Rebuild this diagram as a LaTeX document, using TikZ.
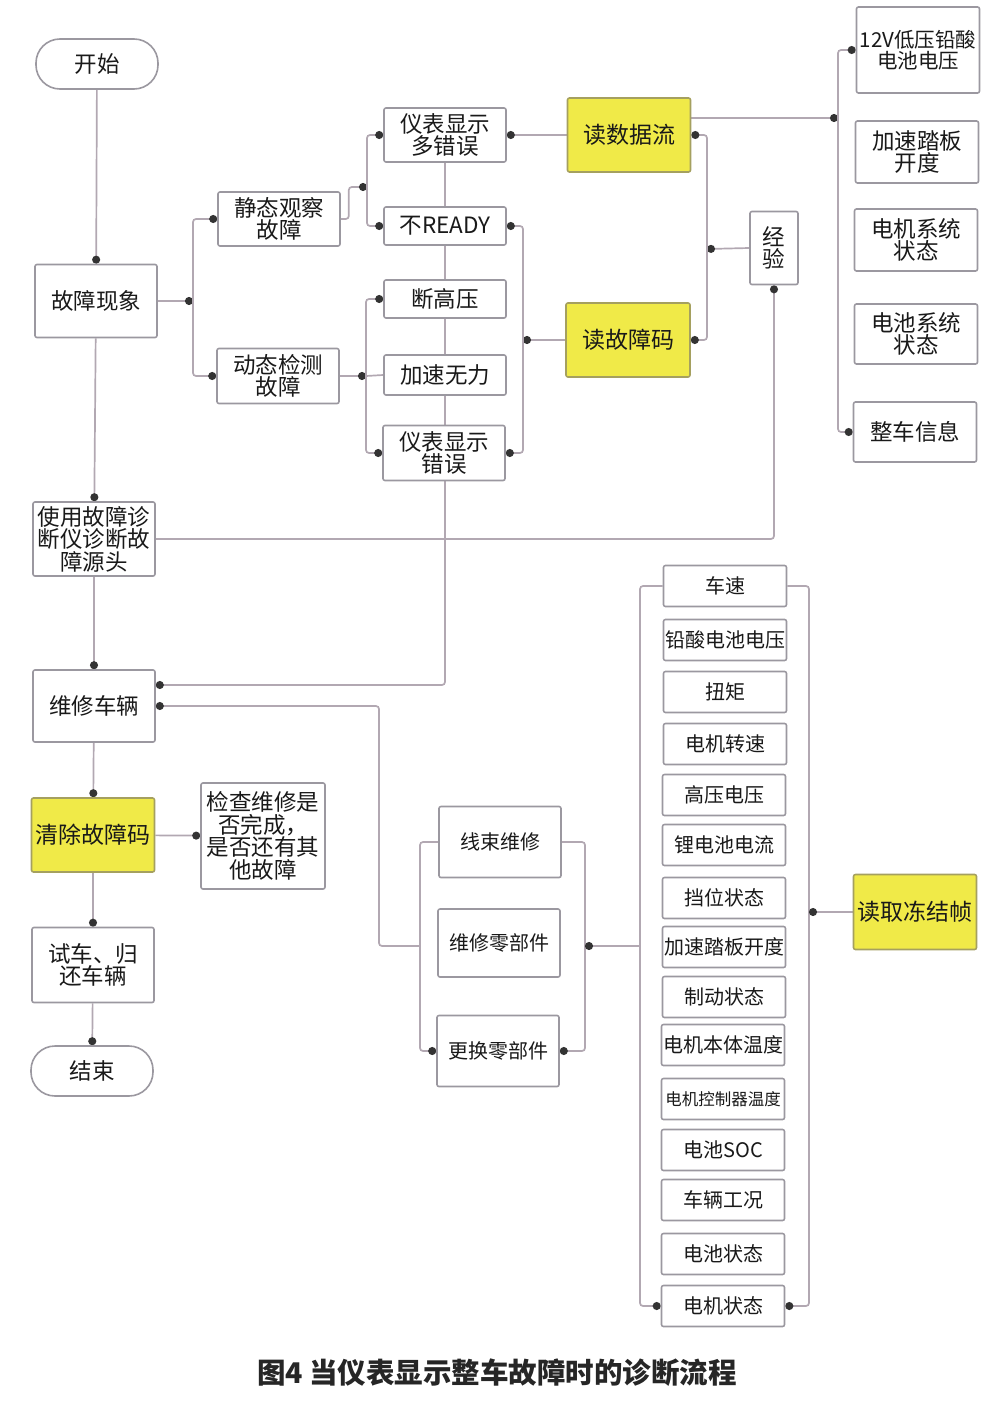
\documentclass[tikz,border=0pt]{standalone}
\usepackage{fontspec}
\setmainfont{Noto Sans CJK SC}
\usepackage{xcolor}
\usepackage{tikz}
\usetikzlibrary{positioning}
\usetikzlibrary{arrows.meta}
\usetikzlibrary{backgrounds}
\definecolor{boxgray}{RGB}{155,152,160}
\definecolor{linegray}{RGB}{178,168,178}
\definecolor{hlyellow}{RGB}{240,234,72}
\definecolor{hlborder}{RGB}{165,160,95}
\tikzset{
  myline/.style={
    draw=linegray,
    line width=1.7pt,
    rounded corners=3pt,
  },
  myarrow/.style={
    myline,
    -{Circle[length=8pt,fill=black!80,color=black!80]},
  },
  mybox/.style={
    draw=boxgray,
    shape=rectangle,
    line width=1.6pt,
    rounded corners=2pt,
    fill=white,
    align=center,
    inner sep=1pt,
    minimum width=122pt,
    text=black!90,
    font=\fontsize{22.5}{22.5}\selectfont
  },
  myterm/.style={
    mybox,
    rounded corners=24pt,
    minimum height=50pt,
  },
  myhl/.style={
    mybox,
    fill=hlyellow,
    draw=hlborder,
    minimum height=74pt,
    font=\fontsize{23}{23}\selectfont
  },
  myparam/.style={
    mybox,
    minimum width=123pt,
    minimum height=41pt,
    font=\fontsize{20}{20}\selectfont
  }
}

\begin{document}
\begin{tikzpicture}[auto, x=1pt, y=-1pt]
    \useasboundingbox (0,0) rectangle (1008,1413);

    % left column
    \node[myterm]                      (start)  at (97,64)   {开始};
    \node[mybox, minimum height=73pt]  (sym)    at (96,301)  {故障现象};
    \node[mybox, minimum height=74pt]  (diag)   at (94,539)  {使用故障诊\\断仪诊断故\\障源头};
    \node[mybox, minimum height=72pt]  (repair) at (94,706)  {维修车辆};
    \node[myhl, minimum width=123pt]   (clear)  at (93,835)  {清除故障码};
    \node[mybox, minimum height=75pt]  (test)   at (93,965)  {试车、归\\还车辆};
    \node[myterm]                      (finish) at (92,1071) {结束};
    \node[mybox, minimum width=124pt, minimum height=106pt] (check) at (263,836) {检查维修是\\否完成，\\是否还有其\\他故障};

    % fault kinds
    \node[mybox, minimum height=54pt] (static)  at (279,219) {静态观察\\故障};
    \node[mybox, minimum height=55pt] (dynamic) at (278,376) {动态检测\\故障};

    \node[mybox, minimum height=54pt] (multi)    at (445,135) {仪表显示\\多错误};
    \node[mybox, minimum height=38pt] (notready) at (445,226) {不READY};
    \node[mybox, minimum height=38pt] (hv)       at (445,299) {断高压};
    \node[mybox, minimum height=40pt] (weak)     at (445,375) {加速无力};
    \node[mybox, minimum height=55pt] (meter)    at (444,453) {仪表显示\\错误};

    % readers
    \node[myhl, minimum width=123pt] (flow) at (629,135) {读数据流};
    \node[myhl, minimum width=124pt] (code) at (628,340) {读故障码};
    \node[mybox, minimum width=48pt, minimum height=73pt] (exp) at (774,248) {经\\验};

    % data stream items
    \node[mybox, minimum width=123pt, minimum height=86pt, font=\fontsize{20.5}{21}\selectfont] (v12) at (918,50) {12V低压铅酸\\电池电压};
    \node[mybox, minimum width=123pt, minimum height=62pt] (pedal)  at (917,152) {加速踏板\\开度};
    \node[mybox, minimum width=123pt, minimum height=62pt] (motsys) at (916,240) {电机系统\\状态};
    \node[mybox, minimum width=123pt, minimum height=60pt] (batsys) at (916,334) {电池系统\\状态};
    \node[mybox, minimum width=123pt, minimum height=60pt] (info)   at (915,432) {整车信息};

    % repair kinds
    \node[mybox, minimum height=71pt, font=\fontsize{20}{20}\selectfont] (harness) at (500,842)  {线束维修};
    \node[mybox, minimum height=68pt, font=\fontsize{20}{20}\selectfont] (fixpart) at (499,943)  {维修零部件};
    \node[mybox, minimum height=71pt, font=\fontsize{20}{20}\selectfont] (swap)    at (498,1051) {更换零部件};

    % freeze frame
    \node[myhl, minimum width=123pt, minimum height=75pt] (frame) at (915,912) {读取冻结帧};

    \node[myparam] (speed)   at (725,586)  {车速};
    \node[myparam] (leadv)   at (725,640)  {铅酸电池电压};
    \node[myparam] (torque)  at (725,692)  {扭矩};
    \node[myparam] (motrpm)  at (725,744)  {电机转速};
    \node[myparam] (hvv)     at (724,795)  {高压电压};
    \node[myparam] (lii)     at (724,845)  {锂电池电流};
    \node[myparam] (gear)    at (724,898)  {挡位状态};
    \node[myparam] (pedpos)  at (724,947)  {加速踏板开度};
    \node[myparam] (brake)   at (724,997)  {制动状态};
    \node[myparam] (mottemp) at (723,1045) {电机本体温度};
    \node[myparam, font=\fontsize{16.5}{17}\selectfont] (ctltemp) at (723,1099) {电机控制器温度};
    \node[myparam] (soc)     at (723,1150) {电池SOC};
    \node[myparam] (cond)    at (723,1200) {车辆工况};
    \node[myparam] (batst)   at (723,1254) {电池状态};
    \node[myparam] (motst)   at (723,1306) {电机状态};

    \node[font=\fontsize{28.5}{29}\selectfont\bfseries, text=black!85] (caption) at (497,1373) {图4 当仪表显示整车故障时的诊断流程};

    \coordinate (symbus)  at (193,301);
    \coordinate (statbus) at (367,187);
    \coordinate (dynbus)  at (366,376);
    \coordinate (codebus) at (523,340);
    \coordinate (expbus)  at (707,249);
    \coordinate (databus) at (838,118);
    \coordinate (drop)    at (445,685);
    \coordinate (fixleft) at (420,946);
    \coordinate (fixturn) at (379,946);
    \coordinate (fixright) at (585,946);
    \coordinate (parleft) at (640,946);
    \coordinate (parright) at (809,912);

    \begin{scope}[on background layer]
    \draw[myarrow] (start)  -- (sym);
    \draw[myarrow] (sym)    -- (diag);
    \draw[myarrow] (diag)   -- (repair);
    \draw[myarrow] (repair) -- (clear);
    \draw[myarrow] (clear)  -- (test);
    \draw[myarrow] (test)   -- (finish);
    \draw[myarrow] (clear)  -- (check);

    \draw[myarrow] (sym.east) -- (symbus);
    \draw[myarrow] (symbus) |- (static.west);
    \draw[myarrow] (symbus) |- (dynamic.west);

    \draw[myarrow] (static.east) -- ++(8,0) |- (statbus);
    \draw[myarrow] (statbus) |- (multi.west);
    \draw[myarrow] (statbus) |- (notready.west);

    \draw[myarrow] (dynamic.east) -- (dynbus);
    \draw[myarrow] (dynbus) |- (hv.west);
    \draw[myarrow] (dynbus) |- (meter.west);
    \draw[myline]  (dynbus) -- (weak.west);

    \draw[myarrow] (multi.south) -- (drop) -- ([yshift=21pt]repair.east);

    \draw[myarrow] (flow.west) -- (multi.east);
    \draw[myarrow] (code.west) -- (codebus);
    \draw[myarrow] (codebus) |- (notready.east);
    \draw[myarrow] (codebus) |- (meter.east);

    \draw[myarrow] (exp.west) -- (expbus);
    \draw[myarrow] (expbus) |- (flow.east);
    \draw[myarrow] (expbus) |- (code.east);

    \draw[myarrow] ([yshift=17pt]flow.east) -- (databus);
    \draw[myarrow] (databus) |- (v12.west);
    \draw[myarrow] (databus) |- (info.west);

    \draw[myarrow] (diag.east) -| (exp.south);

    \draw[myarrow] (harness.west) -| (fixleft) |- (swap.west);
    \draw[myarrow] (harness.east) -| (fixright) |- (swap.east);
    \draw[myarrow] (fixleft) -- (fixturn) |- (repair.east);
    \draw[myarrow] (parleft) -- (fixright);

    \draw[myarrow] (speed.west) -| (parleft) |- (motst.west);
    \draw[myarrow] (speed.east) -| (parright) |- (motst.east);
    \draw[myarrow] (frame.west) -- (parright);
    \end{scope}
\end{tikzpicture}
\end{document}
